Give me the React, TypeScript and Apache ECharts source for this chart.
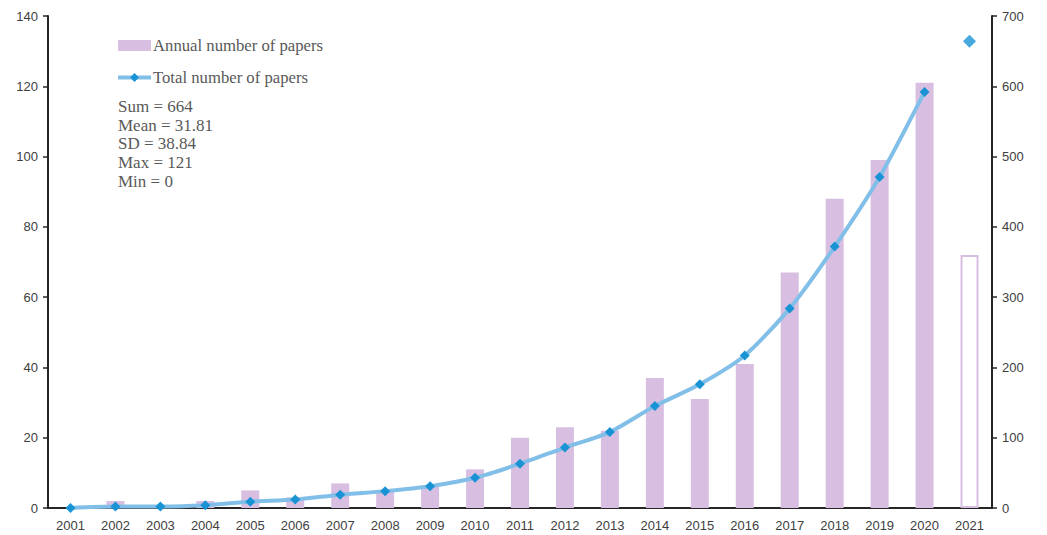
import React, { useEffect, useRef } from "react";
import * as echarts from "echarts";

const years = ["2001","2002","2003","2004","2005","2006","2007","2008","2009","2010","2011","2012","2013","2014","2015","2016","2017","2018","2019","2020","2021"];
const annualPapers = [0, 2, 0, 2, 5, 3, 7, 5, 6, 11, 20, 23, 22, 37, 31, 41, 67, 88, 99, 121, 72];
const totalPapers = [0, 2, 2, 4, 9, 12, 19, 24, 31, 43, 63, 86, 108, 145, 176, 217, 284, 372, 471, 592];
const total2021 = 664;
const statsLines = ["Sum = 664", "Mean = 31.81", "SD = 38.84", "Max = 121", "Min = 0"];
const leftTicks = { min: 0, max: 140, interval: 20 };
const rightTicks = { min: 0, max: 700, interval: 100 };

const barColor = "#D8BFE2";
const lineColor = "#82BFE8";
const markerColor = "#1A93D5";
const axisColor = "#262626";
const labelColor = "#404040";

export default function App() {
  const ref = useRef<HTMLDivElement>(null);
  useEffect(() => {
    if (!ref.current) return;
    const chart = echarts.init(ref.current, null, { renderer: "svg" });
    const lastIdx = years.length - 1;
    const barData = annualPapers.map((v, i) =>
      i === lastIdx
        ? { value: v, itemStyle: { color: "#ffffff", borderColor: barColor, borderWidth: 2 } }
        : v
    );
    const lineData = years.map((_, i) => (i < totalPapers.length ? totalPapers[i] : "-"));
    const scatterData = years.map((_, i) => (i === lastIdx ? total2021 : "-"));
    chart.setOption({
      animation: false,
      backgroundColor: "#ffffff",
      grid: { left: 48, right: 55, top: 16, bottom: 27 },
      legend: {
        orient: "vertical",
        left: 111,
        top: 32,
        itemGap: 15,
        itemWidth: 33,
        itemHeight: 11,
        textStyle: { fontFamily: "Liberation Serif", fontSize: 16.7, color: "#595959", padding: [0, 0, 0, -3] },
        data: [
          { name: "Annual number of papers", icon: "rect" },
          { name: "Total number of papers", lineStyle: { width: 4, color: lineColor } },
        ],
      },
      graphic: [
        {
          type: "text",
          left: 118,
          top: 97,
          style: {
            text: statsLines.join("\n"),
            font: '17px "Liberation Serif"',
            lineHeight: 18.7,
            fill: "#595959",
          },
        },
      ],
      xAxis: {
        type: "category",
        data: years,
        boundaryGap: true,
        axisLine: { lineStyle: { color: axisColor, width: 2 } },
        axisTick: { show: false },
        axisLabel: { color: labelColor, fontFamily: "Liberation Sans", fontSize: 13, margin: 11, interval: 0 },
      },
      yAxis: [
        {
          type: "value",
          ...leftTicks,
          position: "left",
          axisLine: { show: true, lineStyle: { color: axisColor, width: 2 } },
          axisTick: { show: true, length: 5, lineStyle: { color: axisColor, width: 1.5 } },
          axisLabel: { color: labelColor, fontFamily: "Liberation Sans", fontSize: 13, margin: 10 },
          splitLine: { show: false },
        },
        {
          type: "value",
          ...rightTicks,
          position: "right",
          axisLine: { show: true, lineStyle: { color: axisColor, width: 2 } },
          axisTick: { show: true, length: 5, lineStyle: { color: axisColor, width: 1.5 } },
          axisLabel: { color: labelColor, fontFamily: "Liberation Sans", fontSize: 13, margin: 10 },
          splitLine: { show: false },
        },
      ],
      series: [
        {
          name: "Annual number of papers",
          type: "bar",
          yAxisIndex: 0,
          data: barData,
          barWidth: 18,
          itemStyle: { color: barColor },
        },
        {
          name: "Total number of papers",
          type: "line",
          yAxisIndex: 1,
          data: lineData,
          smooth: 0.25,
          symbol: "diamond",
          symbolSize: 10,
          lineStyle: { color: lineColor, width: 4 },
          itemStyle: { color: markerColor },
          z: 5,
        },
        {
          name: "Total 2021",
          type: "scatter",
          yAxisIndex: 1,
          data: scatterData,
          symbol: "diamond",
          symbolSize: 13,
          itemStyle: { color: markerColor },
          z: 6,
        },
      ],
    });
    return () => chart.dispose();
  }, []);
  return (
    <div
      ref={ref}
      style={{ position: "fixed", left: 0, top: 0, width: 1047, height: 535, background: "#fff" }}
    />
  );
}
